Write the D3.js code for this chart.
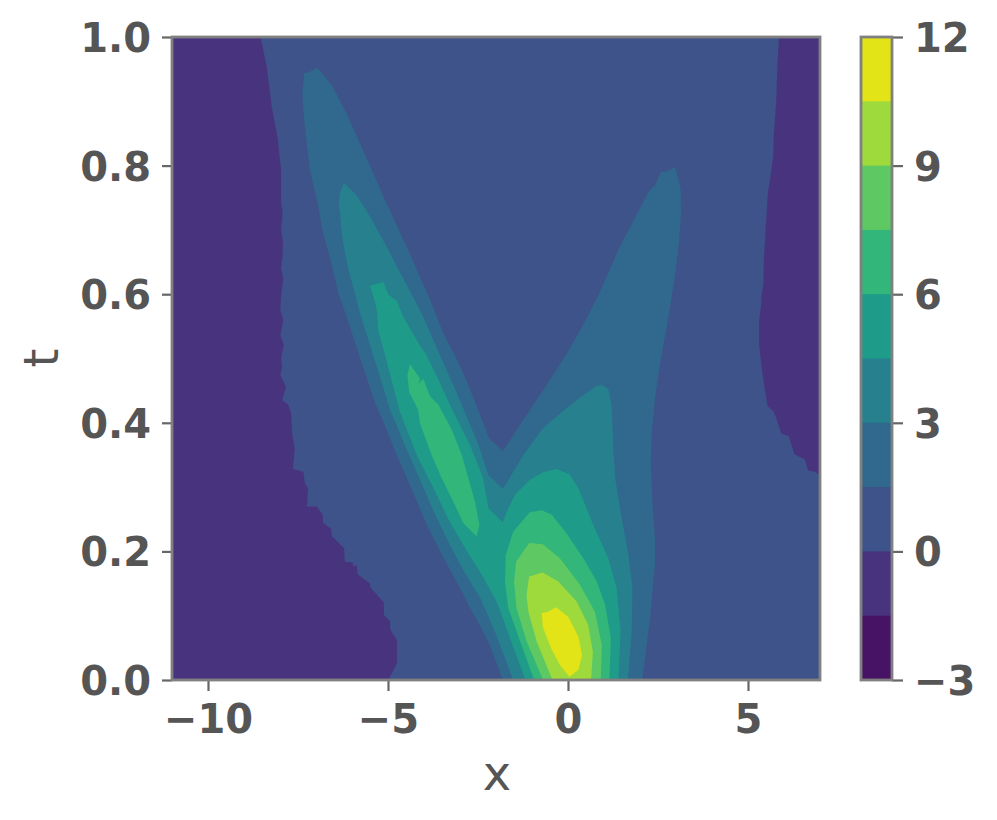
<!DOCTYPE html>
<html>
<head>
<meta charset="utf-8">
<script src="https://cdn.jsdelivr.net/npm/d3@7"></script>
<style>
  body { margin: 0; background: #fff; }
  text { font-family: "DejaVu Sans"; fill: #555555; }
</style>
</head>
<body>
<svg width="997" height="820"></svg>
<script>
// contour levels and their filled colours
const levels = [-3, -1.5, 0, 1.5, 3, 4.5, 6, 7.5, 9, 10.5, 12];
const bandColors = ["#471365", "#48347e", "#3e5389", "#31688e", "#27808e", "#1f9c89", "#32b67a", "#5ec962", "#9fda3c", "#e2e418"];

const xTicks = [-10, -5, 0, 5];
const tTicks = [0, 0.2, 0.4, 0.6, 0.8, 1];
const cbTicks = [-3, 0, 3, 6, 9, 12];

// contour outlines, [x, t]
const negLeft = [[-11,1],[-8.54,1],[-8.37,.954],[-8.23,.892],[-8.07,.845],[-7.97,.793],[-7.97,.742],[-7.93,.727],[-7.97,.7],[-7.92,.684],[-7.93,.658],[-7.97,.641],[-7.91,.625],[-7.97,.596],[-7.99,.575],[-7.91,.56],[-7.99,.536],[-7.89,.521],[-7.97,.501],[-7.94,.487],[-7.99,.474],[-7.83,.456],[-7.94,.435],[-7.77,.428],[-7.69,.415],[-7.66,.381],[-7.59,.36],[-7.64,.328],[-7.35,.324],[-7.31,.306],[-7.22,.298],[-7.25,.27],[-6.98,.27],[-6.81,.257],[-6.81,.245],[-6.58,.235],[-6.56,.224],[-6.22,.205],[-6.2,.184],[-5.98,.183],[-5.96,.176],[-5.87,.179],[-5.84,.164],[-5.5,.15],[-5.49,.144],[-5.12,.121],[-5.11,.101],[-4.94,.091],[-4.94,.079],[-4.75,.062],[-4.75,.026],[-4.99,0],[-11,0]];
const negRight = [[7,1],[5.86,1],[5.82,.959],[5.78,.897],[5.72,.85],[5.7,.814],[5.61,.778],[5.55,.757],[5.49,.7],[5.44,.653],[5.43,.617],[5.37,.596],[5.37,.586],[5.31,.56],[5.31,.521],[5.4,.477],[5.54,.426],[5.72,.417],[5.93,.383],[6.13,.379],[6.29,.351],[6.58,.343],[6.67,.326],[6.86,.324],[7,.318]];
const level1_5 = [[-1.81,0],[-2.17,.054],[-2.44,.084],[-2.72,.112],[-3,.143],[-3.46,.19],[-3.88,.236],[-4.39,.303],[-4.76,.35],[-5.13,.402],[-5.36,.431],[-5.8,.505],[-6.15,.565],[-6.38,.601],[-6.55,.643],[-6.8,.695],[-6.98,.747],[-7.17,.793],[-7.28,.845],[-7.35,.886],[-7.38,.912],[-7.33,.944],[-7.21,.945],[-6.96,.952],[-6.56,.925],[-6.15,.881],[-5.59,.811],[-5.04,.741],[-4.44,.669],[-4.2,.638],[-3.79,.586],[-3.46,.539],[-3.14,.505],[-2.77,.459],[-2.44,.412],[-2.19,.376],[-1.81,.356],[-1.33,.397],[-.69,.451],[-.06,.505],[.42,.552],[.89,.604],[1.44,.674],[1.81,.713],[2.23,.759],[2.42,.77],[2.58,.79],[2.71,.79],[2.97,.798],[3.05,.783],[3.13,.762],[3.14,.726],[3.09,.684],[2.97,.627],[2.79,.565],[2.56,.493],[2.42,.439],[2.33,.386],[2.3,.34],[2.34,.283],[2.42,.215],[2.42,.184],[2.28,.096],[2.06,0]];
const level3 = [[-1.52,0],[-2.03,.075],[-2.44,.128],[-2.86,.166],[-3.28,.21],[-3.69,.257],[-4.11,.311],[-4.53,.365],[-4.94,.42],[-5.41,.505],[-5.78,.571],[-6.11,.641],[-6.25,.68],[-6.31,.711],[-6.36,.742],[-6.33,.759],[-6.22,.773],[-5.87,.754],[-5.5,.721],[-5.04,.674],[-4.58,.625],[-4.02,.565],[-3.56,.505],[-3.19,.459],[-2.72,.397],[-2.44,.358],[-2.21,.319],[-1.81,.297],[-1.24,.35],[-.69,.392],[-.04,.423],[.38,.441],[.75,.456],[.94,.459],[1.12,.452],[1.21,.428],[1.26,.36],[1.31,.314],[1.49,.252],[1.68,.194],[1.79,.143],[1.77,.075],[1.66,0]];
const level4_5 = [[-1.18,0],[-1.61,.065],[-1.98,.122],[-2.44,.168],[-2.91,.21],[-3.33,.251],[-3.74,.299],[-4.2,.35],[-4.67,.417],[-5.08,.505],[-5.27,.544],[-5.3,.571],[-5.36,.588],[-5.5,.613],[-5.13,.619],[-4.99,.599],[-4.76,.59],[-4.58,.565],[-4.34,.542],[-4.16,.524],[-3.93,.505],[-3.6,.467],[-3.19,.417],[-2.72,.365],[-2.36,.314],[-2.21,.267],[-1.81,.245],[-1.7,.262],[-1.47,.288],[-1.06,.311],[-.69,.323],[-.33,.328],[.04,.32],[.29,.298],[.7,.241],[1.12,.189],[1.35,.143],[1.46,.075],[1.4,0]];
const level6Arm = [[-4.39,.491],[-4.46,.474],[-4.41,.448],[-4.16,.42],[-4.11,.399],[-3.79,.35],[-3.51,.314],[-3.14,.272],[-2.91,.244],[-2.54,.223],[-2.46,.241],[-2.58,.277],[-2.77,.314],[-2.95,.35],[-3.23,.389],[-3.6,.428],[-3.83,.441],[-4.02,.468],[-4.16,.461],[-4.11,.469]];
const level6Peak = [[-.94,0],[-1.33,.06],[-1.66,.112],[-1.75,.153],[-1.73,.194],[-1.52,.231],[-1.06,.261],[-.73,.264],[-.45,.257],[-.04,.228],[.43,.189],[.8,.153],[1.03,.117],[1.19,.065],[1.15,0]];
const level7_5 = [[-.69,0],[-1.15,.06],[-1.43,.112],[-1.5,.153],[-1.44,.184],[-1.08,.213],[-.7,.211],[-.22,.189],[.33,.148],[.75,.106],[.94,.054],[.91,0]];
const level9 = [[-.43,0],[-.87,.06],[-1.1,.106],[-1.15,.132],[-1.08,.161],[-.7,.167],[-.27,.153],[.24,.122],[.56,.086],[.69,.044],[.64,0]];
const level10_5 = [[-.73,.104],[-.7,.083],[-.58,.065],[-.45,.047],[-.22,.023],[.04,.005],[.29,.016],[.39,.039],[.29,.067],[.01,.098],[-.33,.113],[-.55,.106]];

// painted back to front, second value is the index into bandColors
const layers = [
  [negLeft, 1], [negRight, 1], [level1_5, 3], [level3, 4], [level4_5, 5],
  [level6Arm, 6], [level6Peak, 6], [level7_5, 7], [level9, 8], [level10_5, 9]
];

const svg = d3.select("svg");
const grey = "#808080";
const tickFont = 40;

const x = d3.scaleLinear().domain([-11, 7]).range([172, 820]);
const t = d3.scaleLinear().domain([0, 1]).range([680, 37]);
const cb = d3.scaleLinear().domain([-3, 12]).range([680, 37]);

// fondo del contourf
svg.append("rect")
  .attr("x", x(-11))
  .attr("y", t(1))
  .attr("width", x(7) - x(-11))
  .attr("height", t(0) - t(1))
  .attr("fill", bandColors[2]);

const line = d3.line().x(d => x(d[0])).y(d => t(d[1])).curve(d3.curveLinearClosed);

svg.append("g").selectAll("path")
  .data(layers)
  .join("path")
  .attr("d", d => line(d[0]))
  .attr("fill", d => bandColors[d[1]]);

// colorbar: each band runs up to the top so no seams show between them
svg.append("g").selectAll("rect")
  .data(bandColors)
  .join("rect")
  .attr("x", 861)
  .attr("width", 31)
  .attr("y", cb(12))
  .attr("height", (d, i) => cb(levels[i]) - cb(12))
  .attr("fill", d => d);

function styleAxis(g) {
  g.select(".domain").remove();
  g.selectAll("line").attr("stroke", "#666666").attr("stroke-width", 2.2);
  g.selectAll("text")
    .attr("font-size", tickFont)
    .attr("font-weight", "bold")
    .style("font-family", "DejaVu Sans")
    .attr("fill", "#555555");
}

svg.append("g")
  .attr("transform", "translate(0,680)")
  .call(d3.axisBottom(x).tickValues(xTicks).tickSize(11).tickPadding(14))
  .call(styleAxis);

svg.append("g")
  .attr("transform", "translate(172,0)")
  .call(d3.axisLeft(t).tickValues(tTicks).tickFormat(d3.format(".1f")).tickSize(10).tickPadding(11))
  .call(styleAxis)
  .selectAll("text").attr("dy", "0.36em");

svg.append("g")
  .attr("transform", "translate(892,0)")
  .call(d3.axisRight(cb).tickValues(cbTicks).tickSize(11).tickPadding(11))
  .call(styleAxis)
  .selectAll("text").attr("dy", "0.36em");

// marcos
svg.append("rect")
  .attr("x", x(-11)).attr("y", t(1))
  .attr("width", x(7) - x(-11)).attr("height", t(0) - t(1))
  .attr("fill", "none").attr("stroke", grey).attr("stroke-width", 2.8);

svg.append("rect")
  .attr("x", 861).attr("y", cb(12))
  .attr("width", 31).attr("height", cb(-3) - cb(12))
  .attr("fill", "none").attr("stroke", grey).attr("stroke-width", 2.8);

// etiquetas de los ejes
svg.append("text")
  .attr("x", 497).attr("y", 790)
  .attr("text-anchor", "middle")
  .attr("font-size", 48)
  .text("x");

svg.append("text")
  .attr("transform", "translate(58,358) rotate(-90)")
  .attr("text-anchor", "middle")
  .attr("font-size", 48)
  .text("t");
</script>
</body>
</html>
